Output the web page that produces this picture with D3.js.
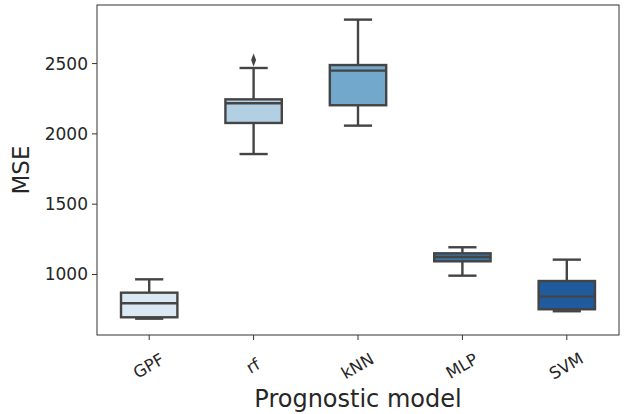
<!DOCTYPE html>
<html>
<head>
<meta charset="utf-8">
<script src="https://cdn.jsdelivr.net/npm/d3@7"></script>
<style>
  body { margin: 0; background: #fff; }
  text { font-family: "DejaVu Sans", sans-serif; fill: #262626; }
</style>
</head>
<body>
<div id="chart"></div>
<script>
// data
const models = ["GPF", "rf", "kNN", "MLP", "SVM"];
const whiskerLow = [682, 1853, 2055, 988, 735];
const q1 = [692, 2074, 2200, 1090, 749];
const median = [792, 2214, 2446, 1121, 839];
const q3 = [867, 2242, 2486, 1147, 950];
const whiskerHigh = [962, 2465, 2809, 1190, 1102];
const outliers = [{ model: "rf", value: 2522 }];
const colors = ["#dbe7f3", "#b2cfe3", "#72a8cc", "#3b74a7", "#1f5b9d"];
const yTicks = [1000, 1500, 2000, 2500];

const margin = { top: 5, right: 17, bottom: 79, left: 97 };
const width = 636 - margin.left - margin.right;
const height = 414 - margin.top - margin.bottom;

const svg = d3.select("#chart")
  .append("svg")
  .attr("width", 636)
  .attr("height", 414)
  .append("g")
  .attr("transform", "translate(" + margin.left + "," + margin.top + ")");

const boxes = models.map((m, i) => ({
  model: m, lo: whiskerLow[i], q1: q1[i], med: median[i], q3: q3[i], hi: whiskerHigh[i], color: colors[i]
}));

const x = d3.scaleBand()
  .domain(models)
  .range([0, width]);

const y = d3.scaleLinear()
  .domain([566, 2913])
  .range([height, 0]);

const boxW = x.bandwidth() * 0.54;
const capW = boxW / 2;
const stroke = "#444";

// axes
const xAxis = d3.axisBottom(x).tickSize(5).tickPadding(6);
const yAxis = d3.axisLeft(y).tickValues(yTicks).tickFormat(d3.format("d")).tickSize(5).tickPadding(4);

const gx = svg.append("g")
  .attr("transform", "translate(0," + height + ")")
  .call(xAxis);
gx.select(".domain").remove();
gx.selectAll(".tick line").attr("stroke", "#333");
gx.selectAll(".tick text")
  .style("font-size", "16.5px")
  .attr("text-anchor", "middle")
  .attr("y", 0)
  .attr("dy", 0)
  .attr("transform", "translate(0,32) rotate(-30)")
  .attr("dominant-baseline", "middle");

const gy = svg.append("g").call(yAxis);
gy.select(".domain").remove();
gy.selectAll(".tick line").attr("stroke", "#333");
gy.selectAll(".tick text").style("font-size", "17px").attr("dy", "0.35em");

// frame
svg.append("rect")
  .attr("width", width)
  .attr("height", height)
  .attr("fill", "none")
  .attr("stroke", "#333")
  .attr("stroke-width", 1);

const g = svg.selectAll(".box")
  .data(boxes)
  .enter()
  .append("g")
  .attr("class", "box")
  .attr("transform", d => "translate(" + (x(d.model) + x.bandwidth() / 2) + ",0)");

// whiskers
g.append("line")
  .attr("y1", d => y(d.hi)).attr("y2", d => y(d.q3))
  .attr("stroke", stroke).attr("stroke-width", 2.4);
g.append("line")
  .attr("y1", d => y(d.lo)).attr("y2", d => y(d.q1))
  .attr("stroke", stroke).attr("stroke-width", 2.4);
g.append("line")
  .attr("x1", -capW / 2).attr("x2", capW / 2)
  .attr("y1", d => y(d.hi)).attr("y2", d => y(d.hi))
  .attr("stroke", stroke).attr("stroke-width", 2.4);
g.append("line")
  .attr("x1", -capW / 2).attr("x2", capW / 2)
  .attr("y1", d => y(d.lo)).attr("y2", d => y(d.lo))
  .attr("stroke", stroke).attr("stroke-width", 2.4);

// boxes
g.append("rect")
  .attr("x", -boxW / 2)
  .attr("width", boxW)
  .attr("y", d => y(d.q3))
  .attr("height", d => y(d.q1) - y(d.q3))
  .attr("fill", d => d.color)
  .attr("stroke", stroke)
  .attr("stroke-width", 2.4);

// medians
g.append("line")
  .attr("x1", -boxW / 2).attr("x2", boxW / 2)
  .attr("y1", d => y(d.med)).attr("y2", d => y(d.med))
  .attr("stroke", stroke).attr("stroke-width", 2.4);

// outliers
svg.selectAll(".outlier")
  .data(outliers)
  .enter()
  .append("path")
  .attr("class", "outlier")
  .attr("d", d3.symbol().type(d3.symbolDiamond).size(34))
  .attr("transform", d => "translate(" + (x(d.model) + x.bandwidth() / 2) + "," + y(d.value) + ") scale(0.8,1.2)")
  .attr("fill", stroke);

// axis titles
svg.append("text")
  .attr("x", width / 2 + 0)
  .attr("y", height + 72)
  .attr("text-anchor", "middle")
  .style("font-size", "24px")
  .text("Prognostic model");

svg.append("text")
  .attr("transform", "translate(-68," + (height / 2) + ") rotate(-90)")
  .attr("text-anchor", "middle")
  .style("font-size", "23px")
  .text("MSE");
</script>
</body>
</html>
